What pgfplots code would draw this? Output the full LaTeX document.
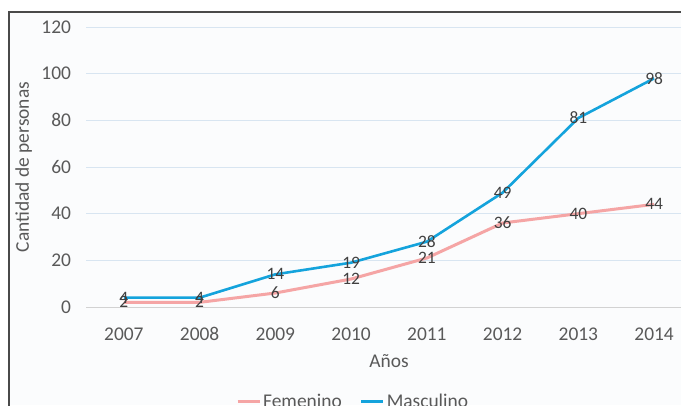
\documentclass[border=0pt]{standalone}
\usepackage{pgfplots}
\pgfplotsset{compat=1.18}
\usepackage{fontspec}
\setmainfont{Carlito}
\definecolor{masc}{HTML}{14A3DC}
\definecolor{fem}{HTML}{F5A5A5}
\definecolor{ticktxt}{HTML}{595959}
\definecolor{valtxt}{HTML}{404040}
\definecolor{gridc}{HTML}{D8E5F1}
\definecolor{framec}{HTML}{4A4A4A}
\definecolor{bgc}{HTML}{FBFCFD}
\begin{document}
\begin{tikzpicture}[x=1bp,y=1bp]
  \clip (0,0) rectangle (681,405);
  \fill[white] (0,0) rectangle (681,405);
  \fill[bgc] (9,0) rectangle (681,393.2);
  \draw[framec, line width=1.5bp] (9,-5) -- (9,393.2) -- (690,393.2);
  \begin{axis}[
    at={(86bp,98bp)}, anchor=south west,
    scale only axis, width=606bp, height=280bp,
    xmin=-0.5, xmax=7.5, ymin=0, ymax=120,
    xtick={0,...,7},
    xticklabels={2007,2008,2009,2010,2011,2012,2013,2014},
    ytick={0,20,...,120},
    axis line style={draw=none},
    major tick style={draw=none},
    ymajorgrids, grid style={gridc, line width=0.8bp},
    /pgf/number format/assume math mode=true,
    tick label style={font=\fontsize{19.5}{19.5}\selectfont, text=ticktxt},
    xticklabel style={anchor=base, yshift=-33bp},
    yticklabel style={xshift=-11.5bp},
    xlabel={Años},
    ylabel={Cantidad de personas},
    every axis x label/.style={at={([yshift=-60bp]axis description cs:0.5,0)},
      anchor=base, font=\fontsize{19.5}{19.5}\selectfont, text=ticktxt},
    every axis y label/.style={at={([xshift=-57bp]axis description cs:0,0.5)},
      rotate=90, anchor=base, font=\fontsize{19.5}{19.5}\selectfont, text=ticktxt},
    nodes near coords,
    every node near coord/.append style={anchor=center,
      font=\fontsize{17.5}{17.5}\selectfont, text=valtxt},
    legend columns=2,
    legend style={at={(axis description cs:0.2475,-0.339)}, anchor=west,
      draw=none, fill=none, inner sep=0pt,
      font=\fontsize{19.5}{19.5}\selectfont, text=ticktxt,
      /tikz/every even column/.append style={column sep=16bp}},
    legend image code/.code={\draw[#1, line width=3bp] (0bp,0bp) -- (22bp,0bp);},
  ]
    \draw[gray!35, line width=0.8bp] (axis cs:-0.5,0) -- (axis cs:7.5,0);
    \addplot[fem, line width=3bp, line join=round] coordinates {
      (0,2) (1,2) (2,6) (3,12) (4,21) (5,36) (6,40) (7,44)};
    \addlegendentry{Femenino}
    \addplot[masc, line width=2.6bp, line join=round] coordinates {
      (0,4) (1,4) (2,14) (3,19) (4,28) (5,49) (6,81) (7,98)};
    \addlegendentry{Masculino}
  \end{axis}
\end{tikzpicture}
\end{document}
